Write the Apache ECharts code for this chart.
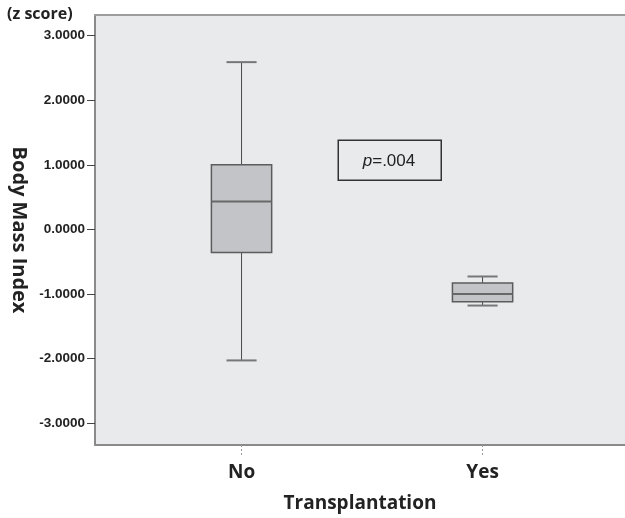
<!DOCTYPE html>
<html><head><meta charset="utf-8">
<script src="https://cdn.jsdelivr.net/npm/echarts@6/dist/echarts.min.js"></script>
<style>html,body{margin:0;padding:0;background:#fff}#c{width:625px;height:518px}</style>
</head><body><div id="c"></div><script>
const categories = ['No', 'Yes'];
const lowWhisker = [-2.03, -1.18];
const q1Values = [-0.36, -1.12];
const medianValues = [0.43, -1.00];
const q3Values = [1.00, -0.83];
const highWhisker = [2.59, -0.73];
const yTicks = [-3, -2, -1, 0, 1, 2, 3];
const pText = '=.004';

const chart = echarts.init(document.getElementById('c'), null, {renderer: 'canvas'});
const catIdx = categories.map((c, i) => i);
const seriesData = categories.map((c, i) => [i, lowWhisker[i], q1Values[i], medianValues[i], q3Values[i], highWhisker[i]]);

function renderItem(params, api) {
  const x = api.value(0);
  const pLow = api.coord([x, api.value(1)]);
  const pQ1 = api.coord([x, api.value(2)]);
  const pMed = api.coord([x, api.value(3)]);
  const pQ3 = api.coord([x, api.value(4)]);
  const pHigh = api.coord([x, api.value(5)]);
  const bw = api.size([0.25, 0])[0];
  const cw = bw / 2;
  const cx = pLow[0];
  const wStyle = {stroke: '#4a4a4a', lineWidth: 1};
  return {
    type: 'group',
    children: [
      {type: 'line', shape: {x1: cx, y1: pHigh[1], x2: cx, y2: pQ3[1]}, style: wStyle},
      {type: 'line', shape: {x1: cx, y1: pQ1[1], x2: cx, y2: pLow[1]}, style: wStyle},
      {type: 'line', shape: {x1: cx - cw / 2, y1: pHigh[1], x2: cx + cw / 2, y2: pHigh[1]}, style: {stroke: '#777', lineWidth: 2}},
      {type: 'line', shape: {x1: cx - cw / 2, y1: pLow[1], x2: cx + cw / 2, y2: pLow[1]}, style: {stroke: '#777', lineWidth: 2}},
      {type: 'rect', shape: {x: cx - bw / 2, y: pQ3[1], width: bw, height: pQ1[1] - pQ3[1]}, style: {fill: '#c3c4c8', stroke: '#5c5c5c', lineWidth: 1.5}},
      {type: 'line', shape: {x1: cx - bw / 2, y1: pMed[1], x2: cx + bw / 2, y2: pMed[1]}, style: {stroke: '#686868', lineWidth: 2}}
    ]
  };
}

const option = {
  backgroundColor: '#fff',
  animation: false,
  grid: {left: 95, right: 0, top: 15, bottom: 68.5, show: true, backgroundColor: '#e9eaec', borderWidth: 0},
  xAxis: [{
    type: 'value', min: -0.608, max: 1.591, position: 'bottom',
    axisLine: {show: true, onZero: false, lineStyle: {color: '#8a8a8a', width: 2}},
    splitLine: {show: false},
    axisTick: {show: true, customValues: catIdx, length: 10, lineStyle: {color: '#999', type: [2, 2]}},
    axisLabel: {customValues: catIdx, formatter: v => categories[Math.round(v)], fontFamily: 'Open Sans', fontWeight: 'bold', fontSize: 19, color: '#222', margin: 18},
    name: 'Transplantation', nameLocation: 'middle', nameGap: 49,
    nameTextStyle: {fontFamily: 'Open Sans', fontWeight: 'bold', fontSize: 19, color: '#222'}
  }, {
    type: 'value', min: -0.608, max: 1.591, position: 'top',
    axisLine: {show: true, onZero: false, lineStyle: {color: '#9c9c9c', width: 2}},
    axisTick: {show: false}, axisLabel: {show: false}, splitLine: {show: false}
  }],
  yAxis: {
    type: 'value', min: -3.34, max: 3.32,
    axisLine: {show: true, onZero: false, lineStyle: {color: '#8a8a8a', width: 2}},
    splitLine: {show: false},
    axisTick: {show: true, customValues: yTicks, length: 8, lineStyle: {color: '#444', width: 1}},
    axisLabel: {customValues: yTicks, formatter: v => v.toFixed(4), margin: 10, fontFamily: 'Liberation Sans', fontWeight: 'bold', fontSize: 13.5, color: '#222'},
    name: 'Body Mass Index', nameLocation: 'middle', nameRotate: -90, nameGap: 61,
    nameTextStyle: {fontFamily: 'Open Sans', fontWeight: 'bold', fontSize: 20, color: '#222'}
  },
  graphic: [
    {type: 'text', left: 7, top: 6, style: {text: '(z score)', fontFamily: 'Open Sans', fontWeight: 'bold', fontSize: 16, fill: '#222'}},
    {type: 'rect', left: 337.5, top: 139.5, shape: {width: 103, height: 40}, style: {fill: 'transparent', stroke: '#333', lineWidth: 1.5}, z: 10},
    {type: 'text', x: 389, y: 161, z: 11, style: {
      text: '{i|p}{n|' + pText + '}', align: 'center', verticalAlign: 'middle',
      rich: {
        i: {fontFamily: 'Liberation Sans', fontStyle: 'italic', fontSize: 17, fill: '#222'},
        n: {fontFamily: 'Liberation Sans', fontSize: 17, fill: '#222'}
      }
    }}
  ],
  series: [{
    type: 'custom', renderItem: renderItem, data: seriesData,
    encode: {x: 0, y: [1, 2, 3, 4, 5]}
  }]
};
chart.setOption(option);
</script></body></html>
